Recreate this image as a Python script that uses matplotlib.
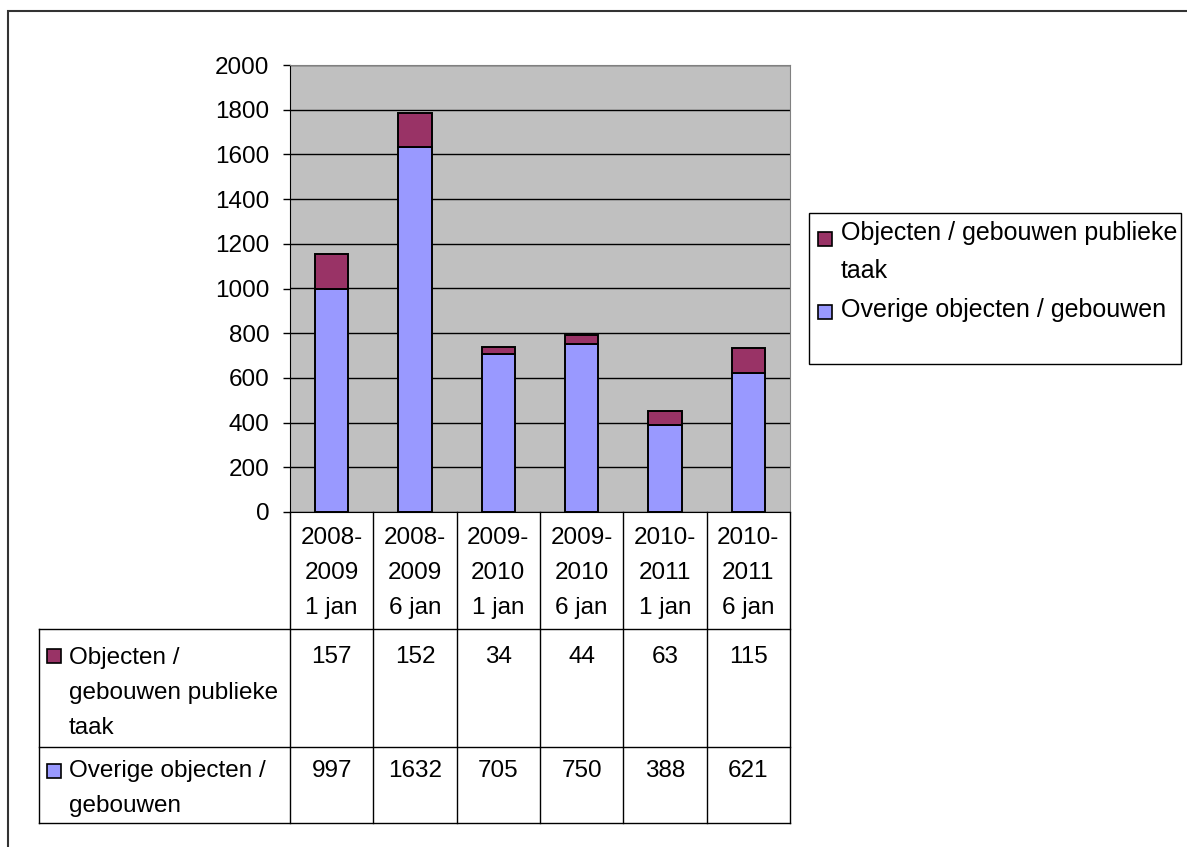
import matplotlib
matplotlib.use("Agg")
import matplotlib.pyplot as plt
from matplotlib.patches import Rectangle
from matplotlib.lines import Line2D

plt.rcParams['font.family'] = ['Liberation Sans', 'DejaVu Sans']

categories = [["2008-", "2009", "1 jan"], ["2008-", "2009", "6 jan"],
              ["2009-", "2010", "1 jan"], ["2009-", "2010", "6 jan"],
              ["2010-", "2011", "1 jan"], ["2010-", "2011", "6 jan"]]
overige = [997, 1632, 705, 750, 388, 621]
publieke = [157, 152, 34, 44, 63, 115]
row_labels_publ = ["Objecten /", "gebouwen publieke", "taak"]
row_labels_over = ["Overige objecten /", "gebouwen"]
legend_publ = ["Objecten / gebouwen publieke", "taak"]
legend_over = ["Overige objecten / gebouwen"]
yticks = [0, 200, 400, 600, 800, 1000, 1200, 1400, 1600, 1800, 2000]

C_BLUE = "#9999FF"
C_RED = "#993366"
W, H = 1187, 847
FS = 17.5

fig = plt.figure(figsize=(W / 100, H / 100), dpi=100)

def fx(x):
    return x / W

def fy(y):
    return 1 - y / H

# outer chart border
fig.add_artist(Rectangle((fx(8), fy(900)), fx(1300), fy(11) - fy(900),
                         transform=fig.transFigure, fill=False,
                         edgecolor="#333333", lw=1.5))

L, R, T, B = 290, 790, 65, 512
ax = fig.add_axes([fx(L), fy(B), fx(R) - fx(L), fy(T) - fy(B)])
ax.set_facecolor("#C0C0C0")
x = list(range(len(overige)))
ax.bar(x, overige, width=0.4, color=C_BLUE, edgecolor="black", lw=1.4, zorder=3)
ax.bar(x, publieke, bottom=overige, width=0.4, color=C_RED, edgecolor="black", lw=1.4, zorder=3)
ax.set_xlim(-0.5, len(x) - 0.5)
ax.set_ylim(0, 2000)
ax.set_yticks(yticks)
ax.set_yticklabels([str(v) for v in yticks], fontsize=FS)
ax.yaxis.grid(True, color="black", lw=1, zorder=0)
ax.set_axisbelow(True)
ax.tick_params(axis="y", direction="out", length=5, width=1, pad=10)
ax.tick_params(axis="x", length=0, labelbottom=False)
for s in ["top", "right"]:
    ax.spines[s].set_color("#808080")
ax.spines["left"].set_color("black")
ax.spines["bottom"].set_color("black")

def hline(y, x0, x1):
    fig.add_artist(Line2D([fx(x0), fx(x1)], [fy(y), fy(y)], transform=fig.transFigure,
                          color="black", lw=1))

def vline(x0, y0, y1):
    fig.add_artist(Line2D([fx(x0), fx(x0)], [fy(y0), fy(y1)], transform=fig.transFigure,
                          color="black", lw=1))

def txt(x0, ybase, s, ha="center", fs=FS):
    fig.text(fx(x0), fy(ybase), s, ha=ha, va="baseline", fontsize=fs)

def marker(x0, ytop, color, size=14):
    fig.add_artist(Rectangle((fx(x0), fy(ytop + size)), fx(size), fy(0) - fy(size),
                             transform=fig.transFigure, facecolor=color,
                             edgecolor="black", lw=1.2))

# data table
n = len(categories)
colw = (R - L) / n
row_lines = [B, 629, 747, 823]
LEFT = 39
for i in range(n + 1):
    vline(L + i * colw, B, row_lines[-1])
vline(LEFT, row_lines[1], row_lines[-1])
for y in row_lines[1:]:
    hline(y, LEFT, R)

LS = 35
for i, lab in enumerate(categories):
    cx = L + (i + 0.5) * colw
    for j, line in enumerate(lab):
        txt(cx, 544 + j * LS, line)
    txt(cx, 663, str(publieke[i]))
    txt(cx, 777, str(overige[i]))

marker(47, 649, C_RED)
for j, line in enumerate(row_labels_publ):
    txt(69, 664 + j * LS, line, ha="left")
marker(47, 764, C_BLUE)
for j, line in enumerate(row_labels_over):
    txt(69, 777 + j * LS, line, ha="left")

# legend
FL = 18
fig.add_artist(Rectangle((fx(809), fy(364)), fx(1181) - fx(809), fy(213) - fy(364),
                         transform=fig.transFigure, fill=False, edgecolor="black", lw=1))
marker(818, 232, C_RED)
txt(841, 240, legend_publ[0], ha="left", fs=FL)
txt(841, 278, legend_publ[1], ha="left", fs=FL)
marker(818, 305, C_BLUE)
txt(841, 317, legend_over[0], ha="left", fs=FL)

fig.savefig("out.png", dpi=100)
